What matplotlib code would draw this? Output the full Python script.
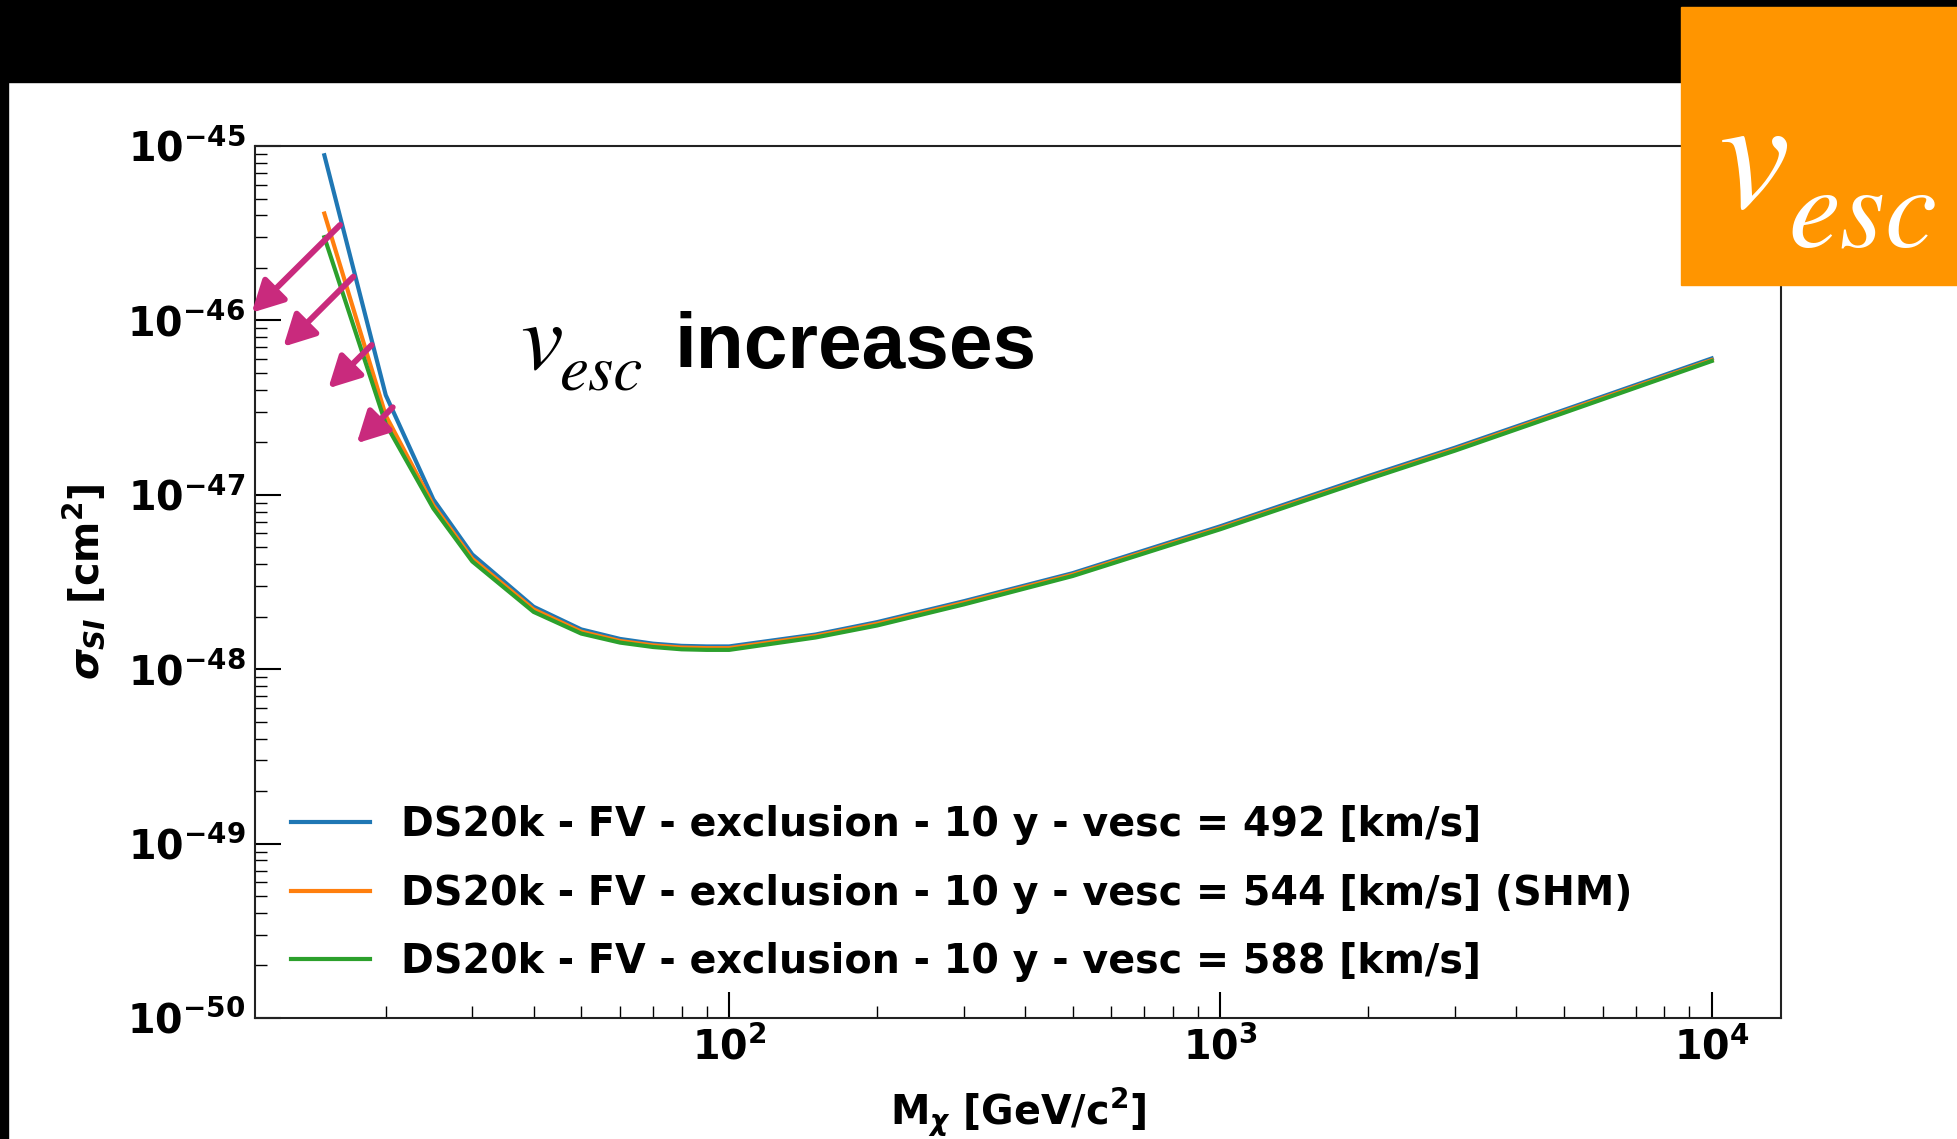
import numpy as np
import matplotlib
matplotlib.use('Agg')
import matplotlib.pyplot as plt
from matplotlib.patches import Rectangle, FancyArrowPatch

# WIMP mass [GeV/c^2] and exclusion limits [cm^2]
mass = [15, 20, 25, 30, 40, 50, 60, 70, 80, 90, 100, 150, 200, 300, 500,
        1000, 2000, 3000, 5000, 10000]
sigma_492 = [8.85e-46, 3.73e-47, 9.4e-48, 4.55e-48, 2.28e-48, 1.69e-48, 1.49e-48,
             1.40e-48, 1.36e-48, 1.35e-48, 1.35e-48, 1.58e-48, 1.86e-48, 2.45e-48,
             3.55e-48, 6.6e-48, 1.28e-47, 1.86e-47, 3.06e-47, 6.05e-47]
sigma_544 = [4.1e-46, 2.85e-47, 8.7e-48, 4.3e-48, 2.2e-48, 1.64e-48, 1.45e-48,
             1.37e-48, 1.33e-48, 1.32e-48, 1.32e-48, 1.55e-48, 1.82e-48, 2.40e-48,
             3.48e-48, 6.45e-48, 1.25e-47, 1.82e-47, 3.0e-47, 5.92e-47]
sigma_588 = [3.0e-46, 2.55e-47, 8.35e-48, 4.15e-48, 2.13e-48, 1.60e-48, 1.42e-48,
             1.34e-48, 1.30e-48, 1.29e-48, 1.29e-48, 1.52e-48, 1.78e-48, 2.35e-48,
             3.42e-48, 6.35e-48, 1.23e-47, 1.79e-47, 2.95e-47, 5.85e-47]
labels = ['DS20k - FV - exclusion - 10 y - vesc = 492 [km/s]',
          'DS20k - FV - exclusion - 10 y - vesc = 544 [km/s] (SHM)',
          'DS20k - FV - exclusion - 10 y - vesc = 588 [km/s]']
y_decades = [1e-50, 1e-49, 1e-48, 1e-47, 1e-46, 1e-45]

plt.rcParams['font.size'] = 28.5
plt.rcParams['font.weight'] = 'bold'
plt.rcParams['axes.labelweight'] = 'bold'
plt.rcParams['mathtext.fontset'] = 'custom'
plt.rcParams['mathtext.rm'] = 'DejaVu Sans:bold'
plt.rcParams['mathtext.bf'] = 'DejaVu Sans:bold'
plt.rcParams['mathtext.it'] = 'DejaVu Sans:italic:bold'

W, H = 1957, 1139
fig = plt.figure(figsize=(W / 100, H / 100), dpi=100)
fig.patch.set_facecolor('white')


def fpos(x, y):
    # slide pixel (from top-left) -> figure fraction
    return x / W, 1 - y / H


# slide decorations: black top band and left strip
fig.patches.append(Rectangle((0, 0.928), 1, 0.072, transform=fig.transFigure,
                             color='black', zorder=0))
fig.patches.append(Rectangle((0, 0), 0.0041, 1, transform=fig.transFigure,
                             color='black', zorder=0))

ax = fig.add_axes([0.1303, 0.1063, 0.7798, 0.7655])
for y, lab in zip([sigma_492, sigma_544, sigma_588], labels):
    ax.plot(mass, y, lw=3, label=lab)

ax.set_xscale('log')
ax.set_yscale('log')
ax.set_yticks(y_decades)
ax.set_ylim(y_decades[0], y_decades[-1])
ax.set_xlabel(r'M$_\chi$ [GeV/c$^2$]', labelpad=12)
ax.set_ylabel(r'$\sigma_{SI}$ [cm$^2$]')
ax.yaxis.set_label_coords(-0.097, 0.5)
ax.tick_params(which='both', direction='in', top=False, right=False)
ax.tick_params(which='major', length=18.5, width=1.5, pad=7)
ax.tick_params(which='minor', length=8.4, width=1.0)
for s in ax.spines.values():
    s.set_linewidth(1.5)
    s.set_color('#222222')

ax.legend(loc='lower left', frameon=False, labelspacing=0.72)

# "v_esc increases" annotation (Times-like italic symbol)
serif = dict(family='STIXGeneral', style='italic', weight='normal', va='baseline', ha='left')
fig.text(*fpos(520, 368), 'v', fontsize=69, **serif)
fig.text(*fpos(560, 390), 'esc', fontsize=47, **serif)
fig.text(*fpos(674, 368), 'increases', fontsize=56.5, family='Liberation Sans',
         weight='bold', va='baseline', ha='left')

arrows = [((340, 225), (251.7, 312.7)), ((353.3, 276.7), (283.3, 346.7)),
          ((371.7, 345), (328.3, 388.3)), ((392.7, 407.3), (356.7, 443.3))]
for tail, tip in arrows:
    arr = FancyArrowPatch(fpos(*tail), fpos(*tip), transform=fig.transFigure,
                          arrowstyle='-|>,head_length=19,head_width=10',
                          mutation_scale=1, lw=4.3, color='#C92A7D',
                          shrinkA=0, shrinkB=0, zorder=5)
    fig.patches.append(arr)

# orange badge top right
fig.patches.append(Rectangle((0.859, 0.7498), 0.141, 0.2443, transform=fig.transFigure,
                             color='#FF9500', zorder=3))
fig.text(*fpos(1719, 207), 'v', fontsize=115, color='white', zorder=4, **serif)
fig.text(*fpos(1788, 247), 'esc', fontsize=84, color='white', zorder=4, **serif)

fig.savefig('out.png', dpi=100)
